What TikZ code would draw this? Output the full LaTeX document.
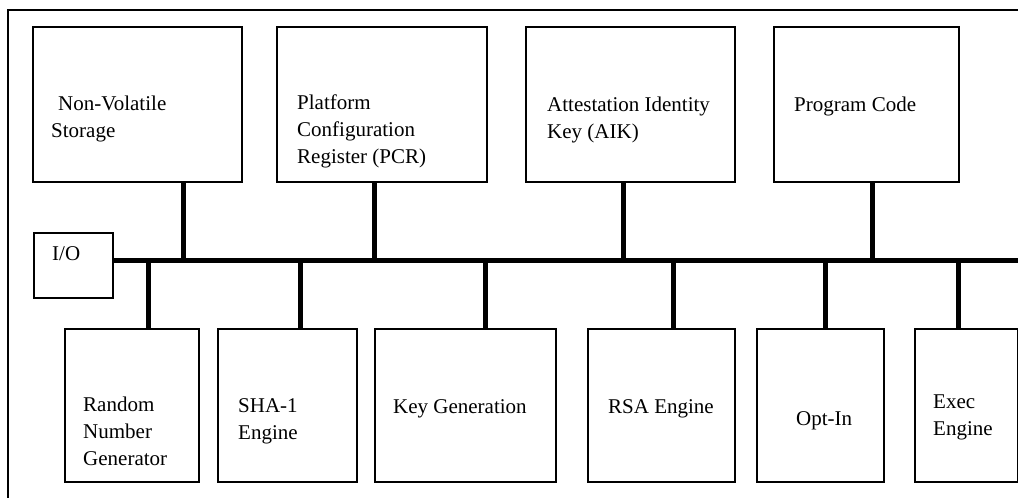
\documentclass[tikz,border=0pt]{standalone}
\usepackage{fontspec}
\setmainfont{Liberation Serif}

\tikzset{
	box/.style={draw, line width=1.6pt, anchor=north west, inner sep=0pt},
	lbl/.style={anchor=base west, inner sep=0pt, align=left, font=\fontsize{21}{27}\selectfont},
	bus/.style={line width=5pt},
}

\begin{document}
\begin{tikzpicture}[x=1pt,y=-1pt]
			\useasboundingbox (0,0) rectangle (1018,498);
			\draw [line width=2pt] (8,498) -- (8,10) -- (1018,10);
			
			% top row
			\node [box, minimum width=209, minimum height=155] (nvs) at (32,26) {};
			\node [box, minimum width=210, minimum height=155] (pcr) at (276,26) {};
			\node [box, minimum width=209, minimum height=155] (aik) at (525,26) {};
			\node [box, minimum width=185, minimum height=155] (prog) at (773,26) {};
			\node [lbl] (nvst) at (51,137) {\hspace*{7pt}Non-Volatile\\Storage};
			\node [lbl] (pcrt) at (297,163) {Platform\\Configuration\\Register (PCR)};
			\node [lbl] (aikt) at (547,138) {Attestation Identity\\Key (AIK)};
			\node [lbl] (progt) at (794,111) {Program Code};
			
			% bus
			\node [box, minimum width=79, minimum height=65] (io) at (33,232) {};
			\node [lbl] (iot) at (52,260) {I/O};
			\coordinate (busend) at (1018,260);
			\draw [bus] (io.east |- busend) -- (busend);
			
			% bottom row
			\node [box, minimum width=134, minimum height=153] (rng) at (64,328) {};
			\node [box, minimum width=139, minimum height=153] (sha) at (217,328) {};
			\node [box, minimum width=181, minimum height=153] (keygen) at (374,328) {};
			\node [box, minimum width=147, minimum height=153] (rsa) at (587,328) {};
			\node [box, minimum width=127, minimum height=153] (optin) at (756,328) {};
			\node [box, minimum width=103, minimum height=153] (exec) at (914,328) {};
			\node [lbl] (rngt) at (83,465) {Random\\Number\\Generator};
			\node [lbl] (shat) at (238,439) {SHA-1\\Engine};
			\node [lbl] (keygent) at (393,413) {Key Generation};
			\node [lbl] (rsat) at (608,413) {RSA Engine};
			\node [lbl] (optint) at (796,425) {Opt-In};
			\node [lbl] (exect) at (933,435) {Exec\\Engine};
			
			\foreach \n/\x in {nvs/183,pcr/374,aik/623,prog/872}
				\draw [bus] (\x,0 |- \n.south) -- (\x,0 |- busend);
			\foreach \n/\x in {rng/148,sha/300,keygen/485,rsa/673,optin/825,exec/958}
				\draw [bus] (\x,0 |- \n.north) -- (\x,0 |- busend);
\end{tikzpicture}
\end{document}
